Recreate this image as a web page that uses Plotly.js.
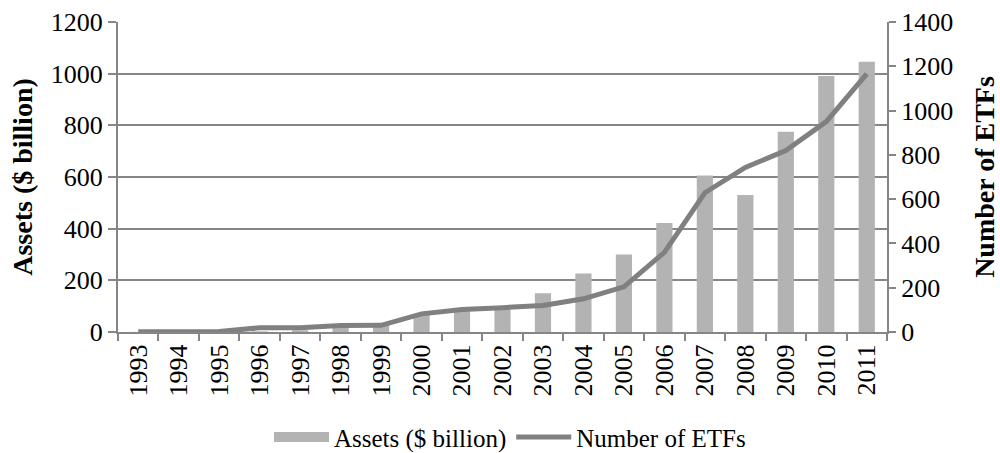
<!DOCTYPE html>
<html>
<head>
<meta charset="utf-8">
<script src="https://cdn.plot.ly/plotly-3.0.1.min.js"></script>
<style>html,body{margin:0;padding:0;background:#fff;}#chart{width:1000px;height:453px;}</style>
</head>
<body>
<div id="chart"></div>
<script>
const years = ['1993','1994','1995','1996','1997','1998','1999','2000','2001','2002','2003','2004','2005','2006','2007','2008','2009','2010','2011'];
const assets = [0.5, 0.4, 1, 2.4, 6.7, 15.6, 33.9, 66, 83, 95, 150, 226, 300, 422, 606, 530, 775, 991, 1046];
const numETFs = [1, 1, 2, 19, 19, 29, 30, 82, 102, 110, 120, 150, 204, 360, 629, 743, 820, 950, 1166];
const leftTicks = [0, 200, 400, 600, 800, 1000, 1200];
const rightTicks = [0, 200, 400, 600, 800, 1000, 1200, 1400];

const fam = '"Liberation Serif", "Times New Roman", serif';
const tickFont = {family: fam, size: 26, color: '#000'};
const titleFont = {family: fam, size: 28, color: '#000'};
const legFont = {family: fam, size: 25, color: '#000'};

const traces = [
  {type: 'bar', x: years, y: assets, name: 'Assets ($ billion)', marker: {color: '#b3b3b3'}, yaxis: 'y', hoverinfo: 'none', showlegend: false},
  {type: 'scatter', mode: 'lines', x: [null], y: [null], name: 'Assets ($ billion)', line: {color: '#b3b3b3', width: 10}, yaxis: 'y', hoverinfo: 'none'},
  {type: 'scatter', mode: 'lines', x: years, y: numETFs, name: 'Number of ETFs', line: {color: '#808080', width: 5}, yaxis: 'y2', hoverinfo: 'none'}
];

const layout = {
  width: 1000, height: 453,
  margin: {l: 118, r: 113, t: 22, b: 121},
  paper_bgcolor: '#fff', plot_bgcolor: '#fff',
  font: tickFont,
  bargap: 0.6,
  showlegend: true,
  legend: {orientation: 'h', xref: 'container', yref: 'container', x: 0.51, xanchor: 'center', y: 0.035, yanchor: 'middle', font: legFont, itemwidth: 55, tracegroupgap: 0},
  xaxis: {
    type: 'category', tickangle: -90, tickfont: tickFont, automargin: false,
    showline: true, linecolor: '#868686', linewidth: 2,
    ticks: 'outside', ticklen: 7, tickcolor: '#868686', tickwidth: 2,
    tickson: 'boundaries', showgrid: false, zeroline: false
  },
  yaxis: {
    range: [0, 1200], tickvals: leftTicks, ticktext: leftTicks.map(String), tickfont: tickFont, automargin: false,
    showline: true, linecolor: '#868686', linewidth: 2,
    ticks: 'outside', ticklen: 8, tickcolor: '#868686', tickwidth: 2,
    showgrid: true, gridcolor: '#868686', gridwidth: 2, zeroline: false,
    title: {text: '<b>Assets ($ billion)</b>', font: titleFont, standoff: 10}
  },
  yaxis2: {
    range: [0, 1400], tickvals: rightTicks, ticktext: rightTicks.map(String), tickfont: tickFont, automargin: false,
    overlaying: 'y', side: 'right',
    showline: true, linecolor: '#868686', linewidth: 2,
    ticks: 'outside', ticklen: 7, tickcolor: '#868686', tickwidth: 2,
    showgrid: false, zeroline: false,
    title: {text: '<b>Number of ETFs</b>', font: titleFont, standoff: 22}
  }
};

Plotly.newPlot('chart', traces, layout, {displayModeBar: false, staticPlot: true});
</script>
</body>
</html>
